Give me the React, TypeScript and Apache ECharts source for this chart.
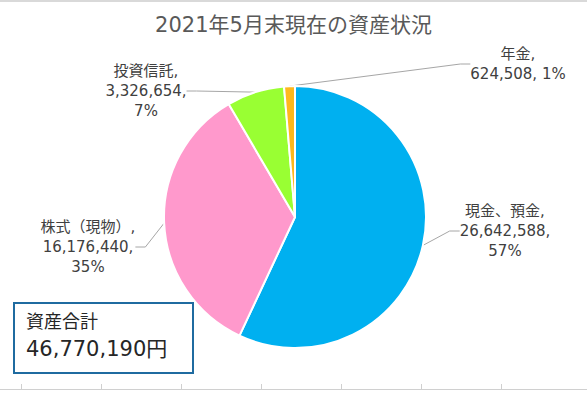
import React, { useEffect, useRef } from "react";
import * as echarts from "echarts";

const categories = ["現金、預金", "株式（現物）", "投資信託", "年金"];
const values = [26642588, 16176440, 3326654, 624508];
const colors = ["#00B0F0", "#FF99CC", "#99FF33", "#FFB81C"];
const titleText = "2021年5月末現在の資産状況";
const totalLabel = "資産合計";

// label anchor positions (layout only)
const labelPos = [
  [505, 231],
  [88, 247],
  [146, 91],
  [518, 64],
];

const fmt = (n: number) => n.toLocaleString("en-US");

export default function App() {
  const ref = useRef<HTMLDivElement>(null);
  useEffect(() => {
    document.body.style.margin = "0";
    if (!ref.current) return;
    const chart = echarts.init(ref.current, null, { renderer: "svg" });
    const total = values.reduce((a, b) => a + b, 0);
    const font = "'DejaVu Sans', 'Noto Sans CJK JP', sans-serif";
    const ticks: any[] = [];
    for (let i = 0; i < 7; i++) {
      ticks.push({
        type: "line",
        shape: { x1: 21.5 + i * 80, y1: 384, x2: 21.5 + i * 80, y2: 389 },
        style: { stroke: "#d0d0d0", lineWidth: 1 },
      });
    }
    chart.setOption({
      animation: false,
      backgroundColor: "#ffffff",
      title: {
        text: titleText,
        left: "center",
        top: 9,
        textStyle: { fontSize: 21, fontWeight: "normal", color: "#595959", fontFamily: font },
      },
      graphic: [
        { type: "rect", shape: { x: 0, y: 0, width: 587, height: 2 }, style: { fill: "#d9d9d9" } },
        { type: "line", shape: { x1: 0, y1: 389.5, x2: 587, y2: 389.5 }, style: { stroke: "#d0d0d0", lineWidth: 1 } },
        ...ticks,
        {
          type: "rect",
          shape: { x: 14, y: 303, width: 179, height: 70 },
          style: { fill: "#ffffff", stroke: "#1F6BA0", lineWidth: 2 },
        },
        {
          type: "text",
          x: 26,
          y: 321,
          style: { text: totalLabel, fontSize: 18, fill: "#262626", fontFamily: font, verticalAlign: "middle" },
        },
        {
          type: "text",
          x: 26,
          y: 349,
          style: { text: fmt(total) + "円", fontSize: 21, fill: "#262626", fontFamily: font, verticalAlign: "middle" },
        },
      ],
      series: [
        {
          type: "pie",
          center: [295, 217],
          radius: 131,
          startAngle: 90,
          clockwise: true,
          itemStyle: { borderColor: "#ffffff", borderWidth: 2 },
          data: categories.map((c, i) => ({ name: c, value: values[i], itemStyle: { color: colors[i] } })),
          label: {
            show: true,
            position: "outside",
            color: "#404040",
            fontSize: 15,
            lineHeight: 20,
            fontFamily: font,
            formatter: (p: any) => {
              const pct = Math.round((p.value / total) * 100);
              if (p.dataIndex === 3) return `${p.name},\n${fmt(p.value)}, ${pct}%`;
              return `${p.name},\n${fmt(p.value)},\n${pct}%`;
            },
          },
          labelLine: { show: true, length: 10, length2: 10, lineStyle: { color: "#A6A6A6", width: 1 } },
          labelLayout: (params: any) => {
            const pos = labelPos[params.dataIndex];
            return { x: pos[0], y: pos[1], align: "center", verticalAlign: "middle" };
          },
        },
      ],
    });
    return () => chart.dispose();
  }, []);
  return <div ref={ref} style={{ width: 587, height: 393 }} />;
}
